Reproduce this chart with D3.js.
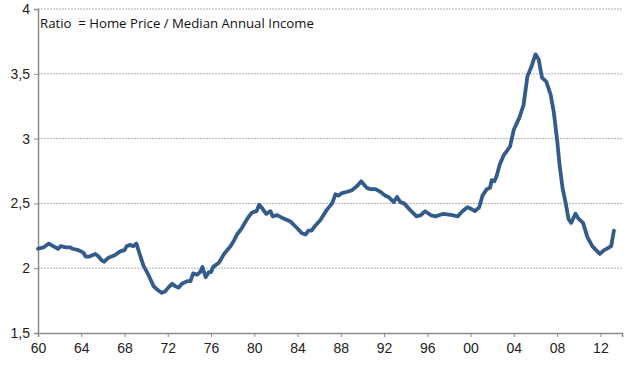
<!DOCTYPE html>
<html>
<head>
<meta charset="utf-8">
<script src="https://cdn.jsdelivr.net/npm/d3@7"></script>
<style>
  html, body { margin: 0; padding: 0; background: #fff; }
  svg { display: block; }
</style>
</head>
<body>
<svg id="chart" width="628" height="370"></svg>
<script>
// ---- data ----
const years = [
  1960.0,1960.5,1961.0,1961.4,1961.85,1962.1,1962.6,1963.0,1963.2,1963.7,
  1964.2,1964.4,1964.75,1965.3,1965.6,1965.9,1966.1,1966.5,1967.1,1967.6,
  1968.0,1968.2,1968.5,1968.8,1969.1,1969.4,1969.75,1970.2,1970.7,1971.1,
  1971.45,1971.75,1972.05,1972.4,1972.7,1973.0,1973.3,1973.8,1974.1,1974.35,
  1974.7,1975.0,1975.2,1975.5,1975.8,1976.0,1976.2,1976.7,1977.0,1977.2,
  1977.8,1978.1,1978.4,1978.85,1979.2,1979.5,1979.8,1980.2,1980.45,1980.75,
  1981.1,1981.5,1981.7,1982.1,1982.55,1983.35,1983.95,1984.4,1984.75,1985.0,
  1985.3,1985.65,1986.1,1986.7,1987.2,1987.5,1987.8,1988.1,1988.6,1989.0,
  1989.45,1989.9,1990.0,1990.4,1990.75,1991.2,1991.65,1992.1,1992.4,1992.9,
  1993.2,1993.5,1993.85,1994.4,1995.0,1995.4,1995.8,1996.3,1996.75,1997.5,
  1998.3,1998.8,1999.25,1999.7,2000.0,2000.4,2000.8,2001.1,2001.5,2001.8,
  2001.95,2002.2,2002.4,2002.7,2003.05,2003.4,2003.65,2004.0,2004.5,2004.9,
  2005.25,2005.6,2006.0,2006.3,2006.6,2007.0,2007.4,2007.7,2008.0,2008.25,
  2008.5,2008.8,2009.05,2009.3,2009.7,2010.0,2010.4,2010.8,2011.25,2011.6,
  2011.95,2012.35,2012.8,2013.0,2013.25
];
const ratios = [
  2.15,2.16,2.19,2.17,2.15,2.17,2.16,2.16,2.15,2.14,
  2.12,2.09,2.09,2.11,2.09,2.06,2.05,2.08,2.10,2.13,
  2.14,2.17,2.18,2.17,2.19,2.11,2.02,1.95,1.86,1.83,
  1.81,1.82,1.85,1.88,1.86,1.85,1.88,1.90,1.90,1.96,
  1.95,1.97,2.01,1.93,1.97,1.97,2.01,2.04,2.08,2.11,
  2.17,2.21,2.26,2.31,2.36,2.40,2.43,2.44,2.49,2.46,
  2.42,2.44,2.40,2.41,2.39,2.36,2.31,2.27,2.26,2.29,
  2.29,2.33,2.37,2.45,2.50,2.57,2.56,2.58,2.59,2.60,
  2.63,2.67,2.66,2.62,2.61,2.61,2.59,2.56,2.55,2.51,
  2.55,2.51,2.50,2.45,2.40,2.41,2.44,2.41,2.40,2.42,
  2.41,2.40,2.44,2.47,2.46,2.44,2.47,2.56,2.61,2.62,
  2.68,2.67,2.71,2.80,2.87,2.91,2.94,3.07,3.16,3.26,
  3.48,3.55,3.65,3.61,3.47,3.44,3.34,3.20,2.99,2.78,
  2.62,2.50,2.38,2.35,2.42,2.38,2.35,2.24,2.17,2.14,
  2.11,2.14,2.16,2.17,2.29
];
const yTicks = [1.5, 2, 2.5, 3, 3.5, 4];
const xTicks = [1960,1964,1968,1972,1976,1980,1984,1988,1992,1996,2000,2004,2008,2012];
const title = "Ratio  = Home Price / Median Annual Income";

// ---- layout ----
const svg = d3.select("#chart");
const mLeft = 38, mRight = 622, mTop = 9, mBottom = 333;

const x = d3.scaleLinear().domain([1960, 2014]).range([mLeft, mRight]);
const y = d3.scaleLinear().domain([1.5, 4]).range([mBottom, mTop]);

const fmtY = v => String(v).replace(".", ",");
const fmtX = v => String(v % 100).padStart(2, "0");

// grid lines
svg.append("g")
  .selectAll("line")
  .data(yTicks.filter(d => d > 1.5))
  .join("line")
  .attr("x1", mLeft).attr("x2", mRight)
  .attr("y1", d => y(d)).attr("y2", d => y(d))
  .attr("stroke", "#b0b0b0")
  .attr("stroke-width", 1)
  .attr("stroke-dasharray", "2,1");

// y axis
const yAxis = d3.axisLeft(y).tickValues(yTicks).tickFormat(fmtY).tickSize(4).tickPadding(4);
const gy = svg.append("g").attr("transform", `translate(${mLeft},0)`).call(yAxis);
gy.select(".domain").attr("stroke", "#8c8c8c").attr("stroke-width", 1.5);
gy.selectAll(".tick line").attr("stroke", "#8c8c8c");
gy.selectAll(".tick text")
  .attr("font-family", "'Liberation Sans', Arial, sans-serif")
  .attr("font-size", 14).attr("fill", "#222");

// x axis
const xAxis = d3.axisBottom(x).tickValues(xTicks).tickFormat(fmtX).tickSize(4).tickPadding(6);
const gx = svg.append("g").attr("transform", `translate(0,${mBottom})`).call(xAxis);
gx.select(".domain").attr("stroke", "#8c8c8c").attr("stroke-width", 1.5);
gx.selectAll(".tick line").attr("stroke", "#8c8c8c");
gx.selectAll(".tick text")
  .attr("font-family", "'Liberation Sans', Arial, sans-serif")
  .attr("font-size", 14).attr("fill", "#222");

// line
const pts = years.map((d, i) => [d, ratios[i]]);
svg.append("path")
  .datum(pts)
  .attr("fill", "none")
  .attr("stroke", "#335b8c")
  .attr("stroke-width", 3.8)
  .attr("stroke-linejoin", "round")
  .attr("stroke-linecap", "round")
  .attr("d", d3.line().x(d => x(d[0])).y(d => y(d[1])));

// title
svg.append("text")
  .attr("x", 40).attr("y", 28)
  .attr("font-family", "'Open Sans', 'Noto Sans', sans-serif")
  .attr("font-size", 13.2)
  .attr("fill", "#111")
  .style("white-space", "pre")
  .text(title);
</script>
</body>
</html>
